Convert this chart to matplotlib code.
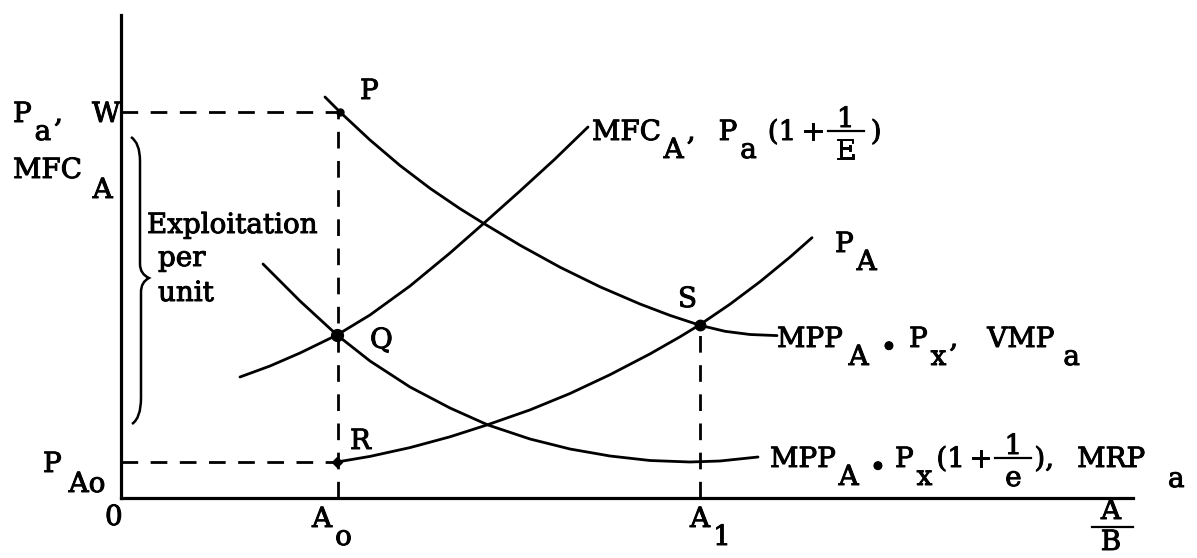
# Exploitation diagram: VMP / MRP / MFC / P_A curves

import matplotlib
matplotlib.use("Agg")
import matplotlib.pyplot as plt
import matplotlib.patheffects as pe
from matplotlib.path import Path
from matplotlib.patches import PathPatch

# curves (x = quantity of A, y = price / value)
vmp_x = [204, 219, 249, 279, 309, 339, 362, 399, 439, 479, 519, 549, 579, 604, 629, 656]
vmp_y = [401, 386, 358, 332.5, 309.7, 289.3, 275, 252.8, 230.8, 211.2, 194, 182.6, 172.7, 166.7, 163.5, 162.4]

mfc_x = [119, 149, 179, 216, 249, 289, 329, 362, 399, 434, 467]
mfc_y = [121, 132, 145, 163, 183, 212, 245, 274, 307, 339, 371]

mrp_x = [142, 179, 216, 249, 289, 329, 367, 409, 449, 489, 529, 569, 599, 637]
mrp_y = [234, 197, 163, 137, 111, 90, 73, 59, 49, 42, 37.5, 36, 37, 41]

pa_x = [216, 249, 289, 329, 367, 409, 449, 489, 529, 559, 579, 609, 639, 669, 691]
pa_y = [36, 41.6, 50.4, 61.2, 73.4, 88.1, 104.5, 123.3, 144.1, 161.2, 173.4, 193.8, 216.3, 240.9, 260.3]

# marked points
pt_P = (219, 386)
pt_Q = (216, 163)
pt_R = (216, 36)
pt_S = (579, 173)

A0, A1 = 217, 579
W, PA0 = 386, 36

ink = "black"
font = dict(family="DejaVu Serif", fontsize=20, va="baseline", color=ink,
            path_effects=[pe.withStroke(linewidth=0.7, foreground=ink)])

fig = plt.figure(figsize=(11.97, 5.58), dpi=100)
ax = fig.add_axes([0, 0, 1, 1])
ax.set_xlim(-121, 1076)
ax.set_ylim(-60, 498)

# axes through the origin
for side in ["top", "right"]:
    ax.spines[side].set_visible(False)
ax.spines["left"].set_position(("data", 0))
ax.spines["bottom"].set_position(("data", 0))
ax.spines["left"].set_bounds(0, 483)
ax.spines["bottom"].set_bounds(0, 1012)
for side in ["left", "bottom"]:
    ax.spines[side].set_linewidth(2.3)
ax.set_xticks([])
ax.set_yticks([])

# curves
for xs, ys in [(vmp_x, vmp_y), (mfc_x, mfc_y), (mrp_x, mrp_y), (pa_x, pa_y)]:
    ax.plot(xs, ys, color=ink, lw=2.0, solid_capstyle="round", solid_joinstyle="round")

# dashed guides
dash = dict(color=ink, lw=2.0, dashes=(6, 4.5))
ax.plot([0, pt_P[0]], [W, W], **dash)
ax.plot([A0, A0], [0, pt_P[1]], **dash)
ax.plot([0, pt_R[0]], [PA0, PA0], **dash)
ax.plot([A1, A1], [0, pt_S[1]], **dash)

# dots
ax.plot(*pt_P, "o", color=ink, ms=5)
ax.plot(*pt_Q, "o", color=ink, ms=8.5)
ax.plot(*pt_R, "D", color=ink, ms=5)
ax.plot(*pt_S, "o", color=ink, ms=7.5)

# brace "}" next to the y axis
def brace(x0, top, bottom, tip):
    xm, xt = x0 + 9, x0 + 18
    verts = [(x0, top), (xm, top - 6), (xm, top - 24),
             (xm, tip + 14), (xm, tip + 4), (xt, tip),
             (xm + 1, tip - 4), (xm + 1, tip - 14),
             (xm + 1, bottom + 26), (xm + 1, bottom + 6), (x0 + 1, bottom)]
    codes = [Path.MOVETO, Path.CURVE3, Path.CURVE3,
             Path.LINETO, Path.CURVE3, Path.CURVE3,
             Path.CURVE3, Path.CURVE3,
             Path.LINETO, Path.CURVE3, Path.CURVE3]
    ax.add_patch(PathPatch(Path(verts, codes), fill=False, lw=1.8, ec=ink))

brace(10, 361, 74, 220)

# typewriter style labels: pieces with baseline drop, numbers = extra space
renderer = fig.canvas.get_renderer()

def write(x, y, parts, gap=3):
    for p in parts:
        if isinstance(p, (int, float)):
            x += p
            continue
        s, dy = p
        if isinstance(s, tuple):          # stacked fraction 1/E
            num, den = s
            w = 36
            ax.text(x + w / 2, y + 13, num, ha="center", **font)
            ax.text(x + w / 2, y - 19, den, ha="center", **font)
            ax.plot([x, x + w], [y + 9, y + 9], color=ink, lw=1.6)
            x += w + gap
        else:
            t = ax.text(x, y - dy, s, **font)
            x += t.get_window_extent(renderer).width + gap

write(-108, 376, [("P", 0), ("a", 18), (",", 0), 26, ("W", 0)])
write(-108, 320, [("MFC", 0), 8, ("A", 20)])
write(26, 265, [("Exploitation", 0)])
write(37, 232, [("per", 0)])
write(37, 197, [("unit", 0)])
write(239, 399, [("P", 0)])
write(471, 358, [("MFC", 0), ("A", 18), (",", 0), 20, ("P", 0), ("a", 18), 8,
                 ("(1", 0), 2, ("+", 0), (("1", "E"), 0), 4, (")", 0)])
write(714, 246, [("P", 0), ("A", 18)])
write(557, 191, [("S", 0)])
write(656, 151, [("MPP", 0), 3, ("A", 18), 9, ("•", 9), 9, ("P", 0), ("x", 18), (",", 0),
                 26, ("VMP", 0), 6, ("a", 18)])
write(249, 150, [("Q", 0)])
write(229, 49, [("R", 0)])
write(-78, 26, [("P", 0), 4, ("Ao", 20)])
write(649, 31, [("MPP", 0), ("A", 18), 8, ("•", 9), 6, ("P", 0), ("x", 18), 1,
                ("(1", 0), 1, ("+", 0), (("1", "e"), 0), 0, ("),", 0), 20,
                ("MRP", 0), 20, ("a", 20)])
write(-16, -27, [("0", 0)])
write(191, -29, [("A", 0), ("o", 18)])
write(569, -29, [("A", 0), ("1", 18)])

# A/B at the end of the horizontal axis
ax.text(990, -21, "A", ha="center", **font)
ax.plot([971, 1012], [-29, -29], color=ink, lw=1.6)
ax.text(990, -52, "B", ha="center", **font)

fig.savefig("out.png", dpi=100, facecolor="white")
